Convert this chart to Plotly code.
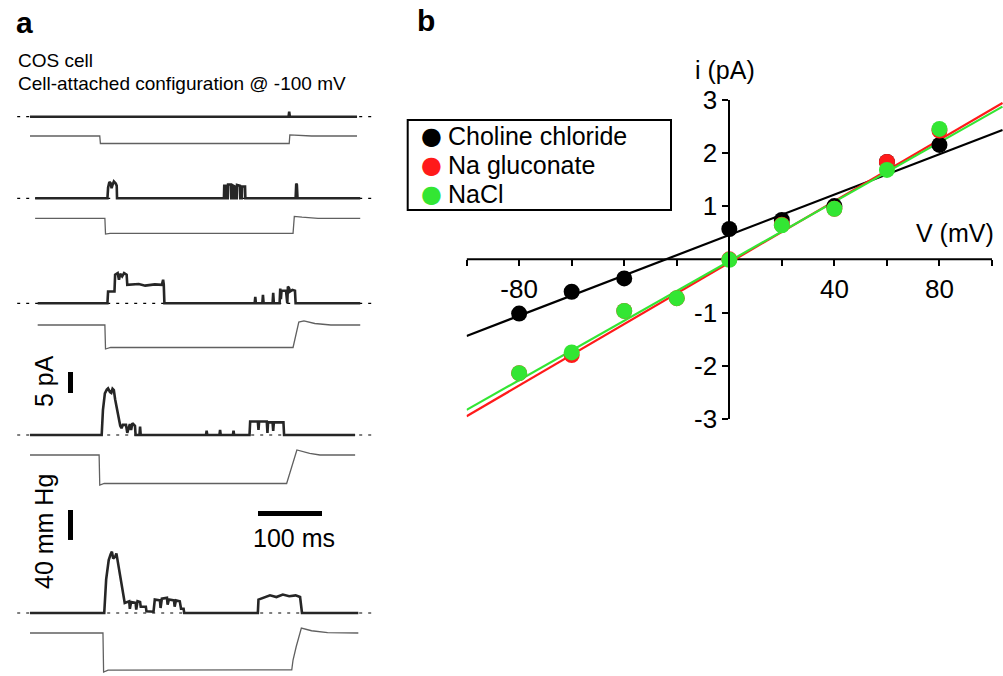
import plotly.graph_objects as go

W, H = 1003, 676

# ---------------- Panel a data ----------------
# current traces: (time ms, current pA relative to baseline)
cur1 = [(0, 0), (404, 0), (405, 1.2), (406, 0), (511, 0)]
cur2 = [(8, 0), (121, 0), (122, 2.5), (124, 3.9), (126, 3.6), (127.5, 2.4), (129, 3.2), (131, 4.0),
        (134, 3.5), (135.5, 3.0), (136, 0), (303, 0), (303.5, 3.0), (306, 3.0), (306.5, 0), (309, 0),
        (309.5, 3.3), (314, 3.3), (314.5, 0), (317, 0), (317.5, 3.0), (320, 2.8), (320.5, 0), (323, 0),
        (323.5, 3.2), (328, 3.0), (328.5, 0), (331, 0), (331.5, 2.8), (336, 2.8), (336.5, 0), (415, 0),
        (416, 3.5), (417, 3.2), (418, 0), (516, 0)]
cur3 = [(12, 0), (121, 0), (122, 2.8), (132, 2.8), (133, 6.8), (137, 7.2), (139, 5.6), (141, 7.0),
        (144, 6.4), (147, 7.2), (151, 6.8), (152, 4.4), (170, 4.6), (180, 4.2), (195, 4.5), (206, 4.4),
        (208, 5.6), (209, 4.5), (210, 0), (351, 0), (352, 1.5), (353, 0), (363, 0), (364, 2), (365, 0),
        (379, 0), (380, 2.5), (381, 0), (390, 0), (391, 3.5), (392, 1), (393, 3), (400, 3), (401, 0.5),
        (402, 0), (403, 4), (405, 3.5), (406, 2.8), (410, 3.2), (414, 3.0), (415, 0), (516, 0)]
cur4 = [(0, 0), (112, 0), (114, 6), (117, 9.9), (120, 10.8), (122, 11.1), (125, 10.2), (127, 10),
        (129, 11), (131, 10.7), (133, 8.5), (135, 6.7), (137, 4.8), (139, 3.2), (141, 2.2), (143, 1.6),
        (145, 2.4), (150, 2.4), (151, 0.5), (152, 0.5), (156, 2.6), (158, 1.2), (160, 2.8), (164, 2.2),
        (165, 0), (171, 0), (172, 2), (173, 0), (275, 0), (276, 1), (277, 0), (296, 0), (297, 1.2),
        (298, 0), (317, 0), (318, 1), (319, 0), (343, 0), (344, 3.2), (356, 3.2), (357, 1.2), (358, 3.2),
        (370, 3.2), (371, 0.5), (372, 3.0), (379, 3.0), (380, 1), (381, 3.0), (396, 3.0), (397, 0), (508, 0)]
cur5 = [(0, 0), (116, 0), (119, 8), (123, 12.6), (126, 14.0), (128, 14.6), (130, 13.0), (133, 13.4),
        (135, 14.2), (137, 12.5), (141, 8.6), (145, 4.8), (148, 2.4), (155, 2.8), (156, 1.0), (158, 2.6),
        (165, 2.4), (166, 0.8), (168, 2.8), (172, 2.6), (173, 1.5), (181, 1.5), (182, 0.4), (193, 0.3),
        (195, 3.2), (203, 3.0), (204, 1.2), (206, 3.4), (214, 3.6), (215, 2.0), (217, 3.2), (225, 3.0),
        (226, 1.5), (228, 3.0), (234, 2.8), (236, 1.0), (240, 1.0), (241, 0), (356, 0), (357, 3.2),
        (364, 3.6), (375, 4.2), (385, 3.8), (395, 4.4), (405, 4.0), (415, 4.2), (422, 3.8), (425, 0), (513, 0)]

# pressure traces: (time ms, pressure mmHg)
pr1 = [(0, 0), (109, 0), (110, -10), (405, -10), (406, 1.5), (420, 1), (440, 0), (511, 0)]
pr2 = [(8, 0), (117, 0), (118, -21), (125, -20), (411, -20), (413, 2.5), (425, 1.5), (450, 0), (516, 0)]
pr3 = [(12, 0), (117, 0), (118, -32), (126, -30), (411, -30), (420, 4), (428, 5.5), (445, 2), (470, 0), (516, 0)]
pr4 = [(0, 0), (108, 0), (109, -40), (116, -38), (401, -38), (404, -29), (409, -15.6), (417, 6.7),
       (437, 2.2), (453, 0), (508, 0)]
pr5 = [(0, 0), (114, 0), (115, -52), (122, -49.5), (409, -49), (411, -36), (416, -18), (421, -2),
       (424, 6.5), (440, 3), (465, 0.5), (513, 0)]

currents = [cur1, cur2, cur3, cur4, cur5]
pressures = [pr1, pr2, pr3, pr4, pr5]
baseline_span = (-20, 539)

# ---------------- Panel b data ----------------
series_names = ["Choline chloride", "Na gluconate", "NaCl"]
choline_v = [-80, -60, -40, 0, 20, 40, 60, 80]
choline_i = [-1.02, -0.61, -0.36, 0.57, 0.74, 1.0, 1.83, 2.15]
nagluc_v = [-80, -60, -40, -20, 0, 20, 40, 60, 80]
nagluc_i = [-2.14, -1.80, -0.97, -0.73, 0.0, 0.65, 0.95, 1.83, 2.42]
nacl_v = [-80, -60, -40, -20, 0, 20, 40, 60, 80]
nacl_i = [-2.14, -1.75, -0.97, -0.73, -0.01, 0.64, 0.95, 1.68, 2.45]

choline_fit_v = [-100, 0, 104]
choline_fit_i = [-1.44, 0.45, 2.43]
nagluc_fit_v = [-100, 104]
nagluc_fit_i = [-2.95, 2.94]
nacl_fit_v = [-100, 104]
nacl_fit_i = [-2.83, 2.87]

x_tick_vals = [-100, -80, -60, -40, -20, 0, 20, 40, 60, 80, 100]
x_tick_text = ["", "-80", "", "", "", "", "", "40", "", "80", ""]
y_tick_vals = [-3, -2, -1, 1, 2, 3]
y_tick_text = ["-3", "-2", "-1", "1", "2", "3"]

# ---------------- Layout helpers ----------------
FONT = "Arial, Liberation Sans, sans-serif"


def dom(top_px, bottom_px):
    return [max(0.0, 1 - bottom_px / H), min(1.0, 1 - top_px / H)]


fig = go.Figure()
layout = dict(width=W, height=H, margin=dict(l=0, r=0, t=0, b=0, pad=0, autoexpand=False),
              paper_bgcolor="white", plot_bgcolor="rgba(0,0,0,0)", showlegend=False,
              font=dict(family=FONT, color="black"))

# panel a time axis: px = 30 + 0.64 * t
PX_PER_MS = 0.64
layout["xaxis"] = dict(domain=[0, 380 / W], range=[-30 / PX_PER_MS, (380 - 30) / PX_PER_MS],
                       visible=False, anchor="free", position=0)

cur_base_px = [116.7, 198.3, 303.3, 435, 613]
pr_base_px = [136, 218.3, 325, 455, 633]
PX_PER_PA = 4.2
PX_PER_MMHG = 0.75
cur_range = [-2, 16]
pr_range = [-55, 10]

for k in range(5):
    ya_c = 3 + 2 * k
    ya_p = 4 + 2 * k
    b = cur_base_px[k]
    layout[f"yaxis{ya_c}"] = dict(domain=dom(b - cur_range[1] * PX_PER_PA, b - cur_range[0] * PX_PER_PA),
                                  range=cur_range, visible=False, anchor="x")
    p = pr_base_px[k]
    prr = [-120, 10] if k == 3 else pr_range
    layout[f"yaxis{ya_p}"] = dict(domain=dom(p - prr[1] * PX_PER_MMHG, p - prr[0] * PX_PER_MMHG),
                                  range=prr, visible=False, anchor="x")
    # dashed baseline
    fig.add_trace(go.Scatter(x=list(baseline_span), y=[0, 0], mode="lines", xaxis="x", yaxis=f"y{ya_c}",
                             line=dict(color="black", width=1.2, dash="3px,6px"), hoverinfo="skip"))
    cur = currents[k]
    fig.add_trace(go.Scatter(x=[c[0] for c in cur], y=[c[1] for c in cur], mode="lines",
                             xaxis="x", yaxis=f"y{ya_c}", line=dict(color="#262626", width=2.6),
                             name=f"current {k + 1}"))
    pr = pressures[k]
    fig.add_trace(go.Scatter(x=[c[0] for c in pr], y=[c[1] for c in pr], mode="lines",
                             xaxis="x", yaxis=f"y{ya_p}", line=dict(color="#606060", width=1.3),
                             name=f"pressure {k + 1}"))

# scale bars (5 pA on trace-4 current axis, 40 mmHg and 100 ms on trace-4 pressure axis)
bar_t = (70.5 - 30) / PX_PER_MS
shapes = [
    dict(type="line", xref="x", yref="y9", x0=bar_t, x1=bar_t, y0=10, y1=15, line=dict(color="black", width=5)),
    dict(type="line", xref="x", yref="y10", x0=bar_t, x1=bar_t, y0=-73.3, y1=-113.3,
         line=dict(color="black", width=5)),
    dict(type="line", xref="x", yref="y10", x0=(258 - 30) / PX_PER_MS, x1=(258 - 30) / PX_PER_MS + 100,
         y0=-78, y1=-78, line=dict(color="black", width=5)),
]

# ---------------- Panel b ----------------
xb_left_px, x0_px, px_per_mv = 466.6, 729.3, 2.627
y0_px, px_per_pa = 259.3, 53.2
xr = [-100, (W - x0_px) / px_per_mv]
layout["xaxis2"] = dict(domain=[xb_left_px / W, 1.0], range=xr, anchor="free", position=1 - y0_px / H,
                        showline=False, zeroline=False, showgrid=False, ticks="outside", ticklen=6,
                        tickwidth=2, tickcolor="black", tickvals=x_tick_vals, ticktext=x_tick_text,
                        tickfont=dict(size=26, family=FONT, color="black"))
layout["yaxis2"] = dict(domain=dom(y0_px - 3 * px_per_pa, y0_px + 3 * px_per_pa), range=[-3, 3],
                        anchor="free", position=x0_px / W, showline=True, linewidth=2, linecolor="black",
                        zeroline=False, showgrid=False, ticks="outside", ticklen=6, tickwidth=2,
                        tickcolor="black", tickvals=y_tick_vals, ticktext=y_tick_text,
                        tickfont=dict(size=26, family=FONT, color="black"))
shapes.append(dict(type="line", xref="x2", yref="y2", x0=-100, x1=100, y0=0, y1=0,
                   line=dict(color="black", width=2), layer="below"))

BLACK, RED, GREEN = "#000000", "#ff1a1a", "#33e633"
series_colors = [BLACK, RED, GREEN]
fig.add_trace(go.Scatter(x=choline_fit_v, y=choline_fit_i, mode="lines", xaxis="x2", yaxis="y2",
                         line=dict(color=BLACK, width=2.2), name="Choline chloride fit"))
fig.add_trace(go.Scatter(x=nagluc_fit_v, y=nagluc_fit_i, mode="lines", xaxis="x2", yaxis="y2",
                         line=dict(color=RED, width=2.2), name="Na gluconate fit"))
fig.add_trace(go.Scatter(x=nacl_fit_v, y=nacl_fit_i, mode="lines", xaxis="x2", yaxis="y2",
                         line=dict(color=GREEN, width=2.2), name="NaCl fit"))
fig.add_trace(go.Scatter(x=choline_v, y=choline_i, mode="markers", xaxis="x2", yaxis="y2",
                         marker=dict(color=BLACK, size=16), name=series_names[0]))
fig.add_trace(go.Scatter(x=nagluc_v, y=nagluc_i, mode="markers", xaxis="x2", yaxis="y2",
                         marker=dict(color=RED, size=16), name=series_names[1]))
fig.add_trace(go.Scatter(x=nacl_v, y=nacl_i, mode="markers", xaxis="x2", yaxis="y2",
                         marker=dict(color=GREEN, size=16), name=series_names[2]))

# legend box (box with text entries so its spacing matches the original)
shapes.append(dict(type="rect", xref="paper", yref="paper", x0=407.7 / W, x1=671 / W,
                   y0=1 - 210 / H, y1=1 - 120 / H, line=dict(color="black", width=2),
                   fillcolor="white", layer="above"))
layout["shapes"] = shapes


def ann(text, px, py, size, xanchor="center", bold=False, angle=0, color="black", family=FONT):
    return dict(text=f"<b>{text}</b>" if bold else text, x=px / W, y=1 - py / H, xref="paper", yref="paper",
                xanchor=xanchor, yanchor="middle", showarrow=False, textangle=angle,
                font=dict(size=size, family=family, color=color))


annotations = [
    ann("a", 24, 22, 30, bold=True),
    ann("b", 426, 21, 30, bold=True),
    ann("COS cell", 16, 61, 19, xanchor="left"),
    ann("Cell-attached configuration @ -100 mV", 16, 83, 19, xanchor="left"),
    ann("5 pA", 44, 381, 25, angle=-90),
    ann("40 mm Hg", 44, 532, 25, angle=-90),
    ann("100 ms", 294, 538, 25),
    ann("i (pA)", 725, 70, 25),
    ann("V (mV)", 955, 233, 25),
]
legend_rows_px = [136, 165, 194]
for name, col, ypx in zip(series_names, series_colors, legend_rows_px):
    annotations.append(ann("\u25CF", 431, ypx, 24, color=col, family="DejaVu Sans"))
    annotations.append(ann(name, 446, ypx, 25, xanchor="left"))
layout["annotations"] = annotations

fig.update_layout(**layout)
fig.write_html("out.html", config={"displayModeBar": False},
               post_script="document.body.style.margin='0px';")
